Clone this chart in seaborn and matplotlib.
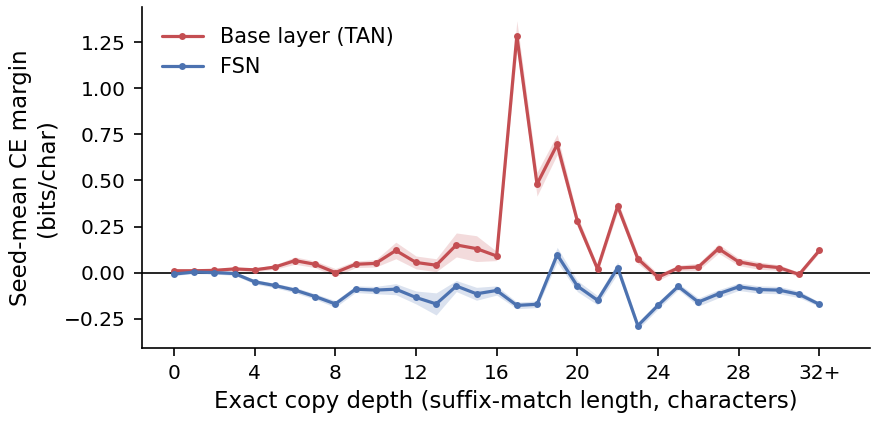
import numpy as np
import pandas as pd
import matplotlib
matplotlib.use("Agg")
import matplotlib.pyplot as plt
import seaborn as sns

depth = list(range(33))
tick_positions = [0, 4, 8, 12, 16, 20, 24, 28, 32]
tick_labels = ["0", "4", "8", "12", "16", "20", "24", "28", "32+"]

base_mean = [0.010, 0.010, 0.012, 0.020, 0.015, 0.030, 0.065, 0.045, 0.000, 0.045,
             0.050, 0.120, 0.055, 0.040, 0.150, 0.130, 0.090, 1.285, 0.480, 0.695,
             0.280, 0.020, 0.360, 0.075, -0.025, 0.025, 0.030, 0.130, 0.058, 0.038,
             0.027, -0.010, 0.120]
base_err = [0.008, 0.008, 0.008, 0.010, 0.010, 0.012, 0.020, 0.018, 0.022, 0.018,
            0.020, 0.045, 0.035, 0.035, 0.065, 0.070, 0.025, 0.082, 0.065, 0.055,
            0.030, 0.020, 0.030, 0.025, 0.018, 0.015, 0.020, 0.025, 0.020, 0.020,
            0.015, 0.012, 0.012]
fsn_mean = [-0.008, 0.003, 0.000, -0.005, -0.050, -0.070, -0.095, -0.130, -0.170, -0.090,
            -0.095, -0.090, -0.135, -0.170, -0.073, -0.115, -0.097, -0.178, -0.172, 0.097,
            -0.073, -0.150, 0.026, -0.288, -0.178, -0.075, -0.160, -0.115, -0.077, -0.092,
            -0.095, -0.118, -0.172]
fsn_err = [0.008, 0.008, 0.008, 0.010, 0.012, 0.012, 0.015, 0.015, 0.018, 0.018,
           0.020, 0.030, 0.035, 0.060, 0.030, 0.035, 0.025, 0.018, 0.018, 0.040,
           0.030, 0.025, 0.030, 0.020, 0.020, 0.018, 0.022, 0.022, 0.020, 0.020,
           0.020, 0.018, 0.012]

series = {"Base layer (TAN)": (base_mean, base_err, "#C44E52"),
          "FSN": (fsn_mean, fsn_err, "#4C72B0")}

sns.set_theme(style="ticks")
plt.rcParams["font.family"] = ["DejaVu Sans"]
for k in ["text.color", "axes.labelcolor", "xtick.color", "ytick.color", "axes.edgecolor"]:
    plt.rcParams[k] = "black"

fig, ax = plt.subplots(figsize=(8.75, 4.21), dpi=100)

rows = []
for name, (m, e, c) in series.items():
    for d, v in zip(depth, m):
        rows.append({"depth": d, "margin": v, "model": name})
df = pd.DataFrame(rows)

palette = {name: c for name, (m, e, c) in series.items()}
for name, (m, e, c) in series.items():
    lo = np.array(m) - np.array(e)
    hi = np.array(m) + np.array(e)
    ax.fill_between(depth, lo, hi, color=c, alpha=0.2, linewidth=0)

sns.lineplot(data=df, x="depth", y="margin", hue="model", palette=palette,
             marker="o", markersize=5, markeredgewidth=0, linewidth=2.3, ax=ax)

ax.axhline(0, color="black", linewidth=1.2, zorder=1)

ax.set_xticks(tick_positions)
ax.set_xticklabels(tick_labels)
ax.set_yticks([-0.25, 0.0, 0.25, 0.5, 0.75, 1.0, 1.25])
ax.set_xlim(-1.6, 34.5)
ax.set_ylim(-0.41, 1.44)
ax.tick_params(labelsize=14.5, width=1.2, length=5.5, pad=6)
ax.set_xlabel("Exact copy depth (suffix-match length, characters)", fontsize=16.5,
              labelpad=5)
ax.set_ylabel("Seed-mean CE margin\n(bits/char)", fontsize=16.5)
for s in ["left", "bottom"]:
    ax.spines[s].set_linewidth(1.2)
sns.despine(ax=ax)

leg = ax.legend(loc="upper left", frameon=False, fontsize=15, title=None,
                borderaxespad=0.55)

fig.subplots_adjust(left=0.162, right=0.994, top=0.983, bottom=0.173)
fig.savefig("out.png", dpi=100)
